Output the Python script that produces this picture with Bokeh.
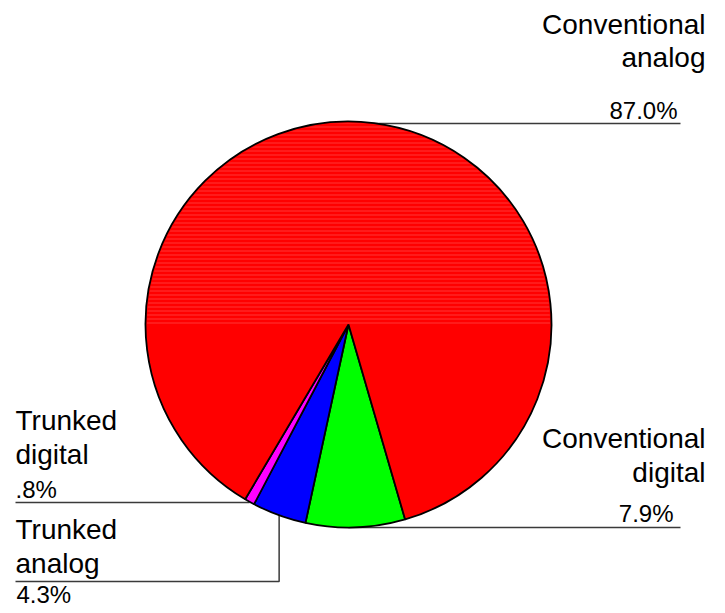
import numpy as np
from bokeh.plotting import figure
from bokeh.models import Range1d
from bokeh.core.properties import value
from bokeh.embed import file_html
from bokeh.resources import INLINE

# ---- data ----
categories = ["Conventional digital", "Trunked analog", "Trunked digital", "Conventional analog"]
shares = [7.9, 4.3, 0.8, 87.0]
pct_labels = ["7.9%", "4.3%", ".8%", "87.0%"]
colors = ["#00ff00", "#0000ff", "#ff00ff", "#ff0000"]

# ---- layout (picture pixel coordinates) ----
PW, PH = 725, 613
FONT = "Liberation Sans"
def Y(py):
    return PH - py

cx, cy, r = 348, Y(324), 203
start = np.deg2rad(-73.8)

frac = np.array(shares) / sum(shares)
bounds = start - np.concatenate([[0], np.cumsum(frac)]) * 2 * np.pi
s_ang = bounds[1:]
e_ang = bounds[:-1]
mid = (s_ang + e_ang) / 2

p = figure(width=PW, height=PH, x_range=Range1d(0, PW), y_range=Range1d(0, PH),
           output_backend="svg", toolbar_location=None, min_border=0,
           x_axis_type=None, y_axis_type=None)
p.grid.visible = False
p.outline_line_color = None

# leader lines (under the pie)
lc, lw = "#3a3a3a", 1.5
p.line([cx, 680], [Y(123), Y(123)], line_color=lc, line_width=lw)
p.line([cx, 680], [Y(527), Y(527)], line_color=lc, line_width=lw)
ex = cx + r * np.cos(mid[2])
p.line([15, ex], [Y(502), Y(502)], line_color=lc, line_width=lw)
ex2 = cx + r * np.cos(mid[1]); ey2 = cy + r * np.sin(mid[1])
p.line([15, ex2, ex2], [Y(581), Y(581), ey2], line_color=lc, line_width=lw)

# pie
p.wedge(x=cx, y=cy, radius=r, start_angle=list(s_ang), end_angle=list(e_ang),
        fill_color=colors, line_color="black", line_width=1.8)
# stripe texture in the upper half of the red slice
p.wedge(x=cx, y=cy, radius=r - 1.5, start_angle=0, end_angle=np.pi,
        fill_color=None, line_color=None, hatch_pattern="horizontal_line",
        hatch_color="#ff5a5a", hatch_alpha=0.6, hatch_weight=1, hatch_scale=4)

DY = 8.5  # renderer places alphabetic baseline a few px low
def txt(x, y, s, align, size):
    p.text(x=[x], y=[Y(y - DY)], text=[s], text_align=align, text_baseline="alphabetic",
           text_font=value(FONT), text_font_size=value(size), text_color="black")

LS, PS = "28px", "24px"
txt(705, 32, "Conventional", "right", LS)
txt(705, 65, "analog", "right", LS)
txt(677, 118, pct_labels[3], "right", PS)

txt(705, 446, "Conventional", "right", LS)
txt(705, 480, "digital", "right", LS)
txt(673, 521, pct_labels[0], "right", PS)

txt(15, 428, "Trunked", "left", LS)
txt(15, 462, "digital", "left", LS)
txt(15, 497, pct_labels[2], "left", PS)

txt(15, 537, "Trunked", "left", LS)
txt(15, 571, "analog", "left", LS)
txt(16, 602.5, pct_labels[1], "left", PS)

open("out.html", "w").write(file_html(p, INLINE))
